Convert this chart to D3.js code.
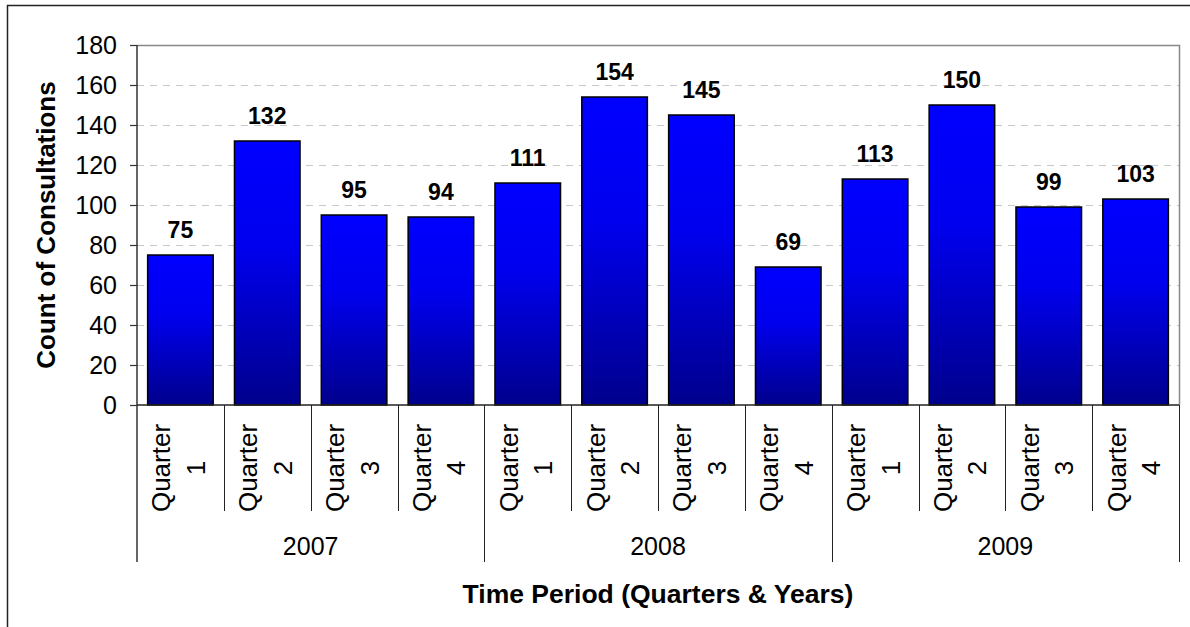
<!DOCTYPE html>
<html>
<head>
<meta charset="utf-8">
<script src="https://cdn.jsdelivr.net/npm/d3@7"></script>
<style>
  body { margin: 0; background: #fff; }
  text { font-family: "Liberation Sans", Arial, sans-serif; fill: #000; }
</style>
</head>
<body>
<div class="chart-container"></div>
<script>
//! DATA
const YEARS = ['2007', '2008', '2009'];
const QUARTERS = ['1', '2', '3', '4'];
const COUNTS = [75, 132, 95, 94, 111, 154, 145, 69, 113, 150, 99, 103];
const Y_TICKS = [0, 20, 40, 60, 80, 100, 120, 140, 160, 180];

//! CONSTS
const WIDTH = 1190;
const HEIGHT = 627;
const LEFT = 137, RIGHT = 1179, TOP = 45, BOTTOM = 405;

const cats = [];
YEARS.forEach(y => QUARTERS.forEach(q => cats.push(y + '-' + q)));
const data = cats.map((c, i) => ({ key: c, year: c.split('-')[0], quarter: c.split('-')[1], value: COUNTS[i] }));

//! SVG
const svg = d3.select('.chart-container')
  .append('svg')
  .attr('width', WIDTH)
  .attr('height', HEIGHT);

// bar gradient
const grad = svg.append('defs').append('linearGradient')
  .attr('id', 'barGrad')
  .attr('x1', 0).attr('y1', 0).attr('x2', 0).attr('y2', 1);
grad.append('stop').attr('offset', 0).attr('stop-color', '#0000ff');
grad.append('stop').attr('offset', 0.4).attr('stop-color', '#0000ee');
grad.append('stop').attr('offset', 1).attr('stop-color', '#00008c');

// outer frame (only top and left edges are in view)
svg.append('rect')
  .attr('x', 7.5).attr('y', 5.5)
  .attr('width', WIDTH + 20).attr('height', HEIGHT + 20)
  .attr('fill', 'none')
  .attr('stroke', '#222')
  .attr('stroke-width', 1.5);

//! SCALES
const y = d3.scaleLinear().domain([0, 180]).range([BOTTOM, TOP]);
const xCat = d3.scaleBand().domain(cats).range([LEFT, RIGHT]).padding(0);
const xBar = d3.scaleBand().domain(cats).range([LEFT, RIGHT])
  .paddingInner(0.245).paddingOuter(0.1225);
const xYear = d3.scaleBand().domain(YEARS).range([LEFT, RIGHT]).padding(0);

// gridlines
svg.append('g')
  .selectAll('line')
  .data(Y_TICKS.filter(d => d > 0 && d < 180))
  .enter()
  .append('line')
  .attr('x1', LEFT).attr('x2', RIGHT)
  .attr('y1', d => Math.round(y(d)) + 0.5).attr('y2', d => Math.round(y(d)) + 0.5)
  .attr('stroke', '#c8c8c8')
  .attr('stroke-dasharray', '7,6');

// plot area top & right border
svg.append('path')
  .attr('d', `M${LEFT},${TOP + 0.5}H${RIGHT + 0.5}V${BOTTOM}`)
  .attr('fill', 'none')
  .attr('stroke', '#888')
  .attr('stroke-width', 1.5);

// bars
svg.append('g')
  .selectAll('rect')
  .data(data)
  .enter()
  .append('rect')
  .attr('x', d => xBar(d.key))
  .attr('y', d => y(d.value))
  .attr('width', xBar.bandwidth())
  .attr('height', d => BOTTOM - y(d.value))
  .attr('fill', 'url(#barGrad)')
  .attr('stroke', '#000')
  .attr('stroke-width', 1.5);

// value labels
svg.append('g')
  .selectAll('text')
  .data(data)
  .enter()
  .append('text')
  .attr('x', d => xBar(d.key) + xBar.bandwidth() / 2)
  .attr('y', d => y(d.value) - 17.5)
  .attr('text-anchor', 'middle')
  .style('font-size', '23px')
  .style('font-weight', 'bold')
  .text(d => d.value);

//! Y AXIS
const yAxis = svg.append('g')
  .attr('transform', `translate(${LEFT},0)`)
  .call(d3.axisLeft(y).tickValues(Y_TICKS).tickSize(7).tickPadding(13).tickSizeOuter(0));
yAxis.select('.domain').remove();
yAxis.selectAll('line').attr('stroke', '#333').attr('stroke-width', 1.2);
yAxis.selectAll('text')
  .style('font-size', '25px')
  .attr('dy', '0.35em');

// left axis line (extends through category boxes)
svg.append('line')
  .attr('x1', LEFT).attr('x2', LEFT)
  .attr('y1', TOP).attr('y2', 562)
  .attr('stroke', '#333').attr('stroke-width', 1.5);

//! X AXIS
svg.append('line')
  .attr('x1', LEFT).attr('x2', RIGHT)
  .attr('y1', BOTTOM).attr('y2', BOTTOM)
  .attr('stroke', '#222').attr('stroke-width', 1.5);

// quarter separators
svg.append('g')
  .selectAll('line')
  .data(cats.filter(c => c.split('-')[1] !== '1'))
  .enter()
  .append('line')
  .attr('x1', d => Math.round(xCat(d)) + 0.5).attr('x2', d => Math.round(xCat(d)) + 0.5)
  .attr('y1', BOTTOM).attr('y2', 511)
  .attr('stroke', '#222');

// year separators
svg.append('g')
  .selectAll('line')
  .data(YEARS.slice(1).map(yr => xYear(yr)).concat([RIGHT]))
  .enter()
  .append('line')
  .attr('x1', d => Math.round(d) + 0.5).attr('x2', d => Math.round(d) + 0.5)
  .attr('y1', BOTTOM).attr('y2', 562)
  .attr('stroke', '#222');

// quarter labels
const qLabels = svg.append('g')
  .selectAll('text')
  .data(data)
  .enter()
  .append('text')
  .attr('transform', d => `translate(${xCat(d.key) + xCat.bandwidth() / 2},468) rotate(-90)`)
  .attr('text-anchor', 'middle')
  .style('font-size', '26px');
qLabels.append('tspan').attr('x', 0).attr('y', -10).text('Quarter');
qLabels.append('tspan').attr('x', 0).attr('y', 24.5).text(d => d.quarter);

// year labels
svg.append('g')
  .selectAll('text')
  .data(YEARS)
  .enter()
  .append('text')
  .attr('x', d => xYear(d) + xYear.bandwidth() / 2)
  .attr('y', 555)
  .attr('text-anchor', 'middle')
  .style('font-size', '25px')
  .text(d => d);

//! TITLES
svg.append('text')
  .attr('x', (LEFT + RIGHT) / 2)
  .attr('y', 603)
  .attr('text-anchor', 'middle')
  .style('font-size', '26.5px')
  .style('font-weight', 'bold')
  .text('Time Period (Quarters & Years)');

svg.append('text')
  .attr('transform', `translate(55,${(TOP + BOTTOM) / 2}) rotate(-90)`)
  .attr('text-anchor', 'middle')
  .style('font-size', '26px')
  .style('font-weight', 'bold')
  .text('Count of Consultations');
</script>
</body>
</html>
